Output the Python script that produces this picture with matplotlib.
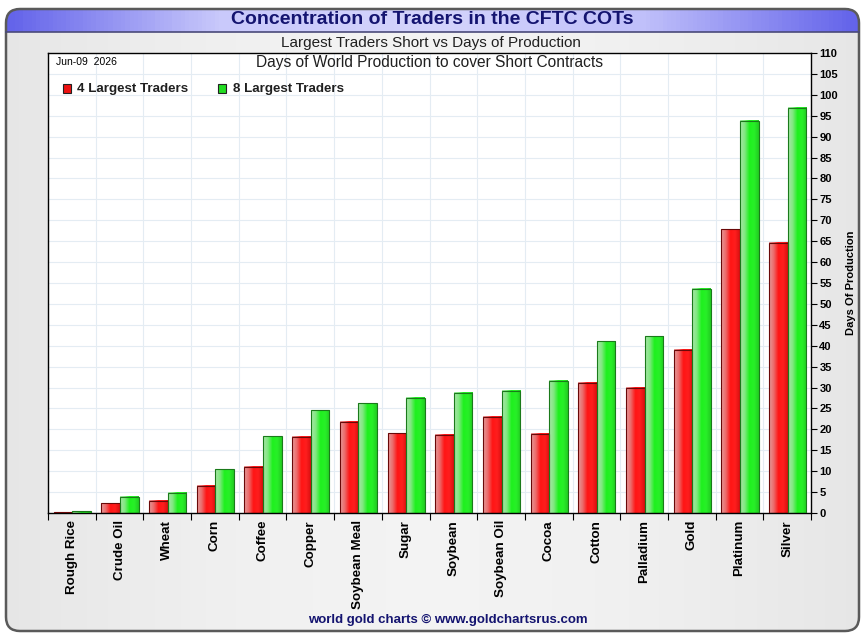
import numpy as np
import matplotlib
matplotlib.use("Agg")
import matplotlib.pyplot as plt
from matplotlib.patches import FancyBboxPatch, Rectangle
from matplotlib.colors import LinearSegmentedColormap

plt.rcParams['font.family'] = ['Liberation Sans', 'DejaVu Sans']

commodities = ["Rough Rice", "Crude Oil", "Wheat", "Corn", "Coffee", "Copper",
               "Soybean Meal", "Sugar", "Soybean", "Soybean Oil", "Cocoa",
               "Cotton", "Palladium", "Gold", "Platinum", "Silver"]
largest4 = [0.2, 2.3, 2.9, 6.5, 11.0, 18.2, 21.8, 19.1, 18.7, 23.0, 18.9,
            31.1, 29.9, 39.0, 67.9, 64.6]
largest8 = [0.4, 3.9, 4.8, 10.5, 18.4, 24.6, 26.3, 27.5, 28.7, 29.2, 31.6,
            41.1, 42.3, 53.6, 93.8, 96.9]
yticks = list(range(0, 115, 5))

W, H = 864, 635
fig = plt.figure(figsize=(W / 100, H / 100), dpi=100)
fig.patch.set_facecolor("white")

# background panel
bg = fig.add_axes([0, 0, 1, 1])
bg.set_xlim(0, W)
bg.set_ylim(H, 0)
bg.axis("off")
panel = FancyBboxPatch((6, 9), 853, 622, boxstyle="round,pad=0,rounding_size=14",
                       facecolor="none", edgecolor="#5a5a5a", lw=1.8, zorder=3)
bg.add_patch(panel)
gx = np.linspace(0, 1, 200)
gray = 0.90 + 0.05 * np.sin(np.pi * gx)
im = bg.imshow(np.tile(gray, (2, 1)), extent=[6, 859, 631, 9], cmap="gray",
               vmin=0, vmax=1, aspect="auto", zorder=1)
im.set_clip_path(panel)
blue = LinearSegmentedColormap.from_list("hdr", ["#6363ea", "#c9c9fb", "#d4d4fc", "#c0c0fa", "#6363ea"])
hd = bg.imshow(gx[np.newaxis, :], extent=[6, 859, 32, 9], cmap=blue,
               aspect="auto", zorder=2)
hd.set_clip_path(panel)
bg.plot([6, 859], [32, 32], color="#4a4a7a", lw=1.2, zorder=3)

fig.text(432 / W, 1 - 19.5 / H, "Concentration of Traders in the CFTC COTs",
         ha="center", va="center", fontsize=14, fontweight="bold", color="#141470")
fig.text(431 / W, 1 - 43.5 / H, "Largest Traders Short vs Days of Production",
         ha="center", va="center", fontsize=11, color="#202020")
fig.text(448 / W, 1 - 620 / H, "world gold charts \u00a9 www.goldchartsrus.com",
         ha="center", va="center", fontsize=9.5, fontweight="bold", color="#141470")

# main plot
ax = fig.add_axes([48 / W, 1 - 513 / H, (811 - 48) / W, (513 - 53) / H])
ax.set_facecolor("white")
ax.set_zorder(2)

red_cmap = LinearSegmentedColormap.from_list("r", ["#e69a9a", "#ec6a6a", "#ff1414", "#ff1e1e", "#d81010"])
green_cmap = LinearSegmentedColormap.from_list("g", ["#a8e6a8", "#80e880", "#1ef01e", "#28f028", "#22cc22"])
grad = np.linspace(0, 1, 64)[np.newaxis, :]

bw = 0.39
for i in range(len(commodities)):
    x_r = i - 0.38
    x_g = x_r + bw
    for x0, v, cm, ec in [(x_r, largest4[i], red_cmap, "#6a0808"),
                          (x_g, largest8[i], green_cmap, "#1a7a1a")]:
        ax.imshow(grad, extent=[x0, x0 + bw, 0, v], cmap=cm, aspect="auto", zorder=2)
        ax.add_patch(Rectangle((x0, 0), bw, v, facecolor="none", edgecolor=ec, lw=0.8, zorder=3))

ax.set_xlim(-0.5, len(commodities) - 0.5)
ax.set_ylim(0, 110)
ax.set_aspect("auto")

# grid
for y in yticks[1:-1]:
    ax.axhline(y, color="#e4ecf3", lw=0.8, zorder=0)
for b in np.arange(0.5, len(commodities) - 0.5, 1):
    ax.axvline(b, color="#e4ecf3", lw=0.8, zorder=0)

ax.yaxis.tick_right()
ax.yaxis.set_label_position("right")
ax.set_yticks(yticks)
ax.set_yticklabels([str(t) for t in yticks], fontsize=8, fontweight="bold")
ax.tick_params(axis="y", direction="out", length=4, width=0.8, pad=2)
ax.set_ylabel("Days Of Production", fontsize=8, fontweight="bold", labelpad=6)

ax.set_xticks(np.arange(-0.5, len(commodities), 1))
ax.set_xticklabels([])
ax.set_xticks(range(len(commodities)), minor=True)
ax.set_xticklabels(commodities, minor=True, rotation=90, fontsize=9.6, fontweight="bold")
ax.tick_params(axis="x", which="major", direction="out", length=5, width=0.8)
ax.tick_params(axis="x", which="minor", length=0, pad=5)

for s in ax.spines.values():
    s.set_color("black")
    s.set_linewidth(1.0)

ax.text(0.01, 0.992, "Jun-09  2026", transform=ax.transAxes, fontsize=7.5,
        ha="left", va="top")
ax.text(0.5, 0.995, "Days of World Production to cover Short Contracts",
        transform=ax.transAxes, ha="center", va="top", fontsize=11.2, color="#202020")

ax.add_patch(Rectangle((0.02, 0.913), 0.01, 0.019, transform=ax.transAxes,
                       facecolor="#ee1111", edgecolor="#222222", lw=0.8, zorder=5))
ax.text(0.038, 0.922, "4 Largest Traders", transform=ax.transAxes, fontsize=9.6,
        fontweight="bold", va="center", color="#202020")
ax.add_patch(Rectangle((0.223, 0.913), 0.01, 0.019, transform=ax.transAxes,
                       facecolor="#22dd22", edgecolor="#222222", lw=0.8, zorder=5))
ax.text(0.242, 0.922, "8 Largest Traders", transform=ax.transAxes, fontsize=9.6,
        fontweight="bold", va="center", color="#202020")

fig.savefig("out.png", dpi=100)
